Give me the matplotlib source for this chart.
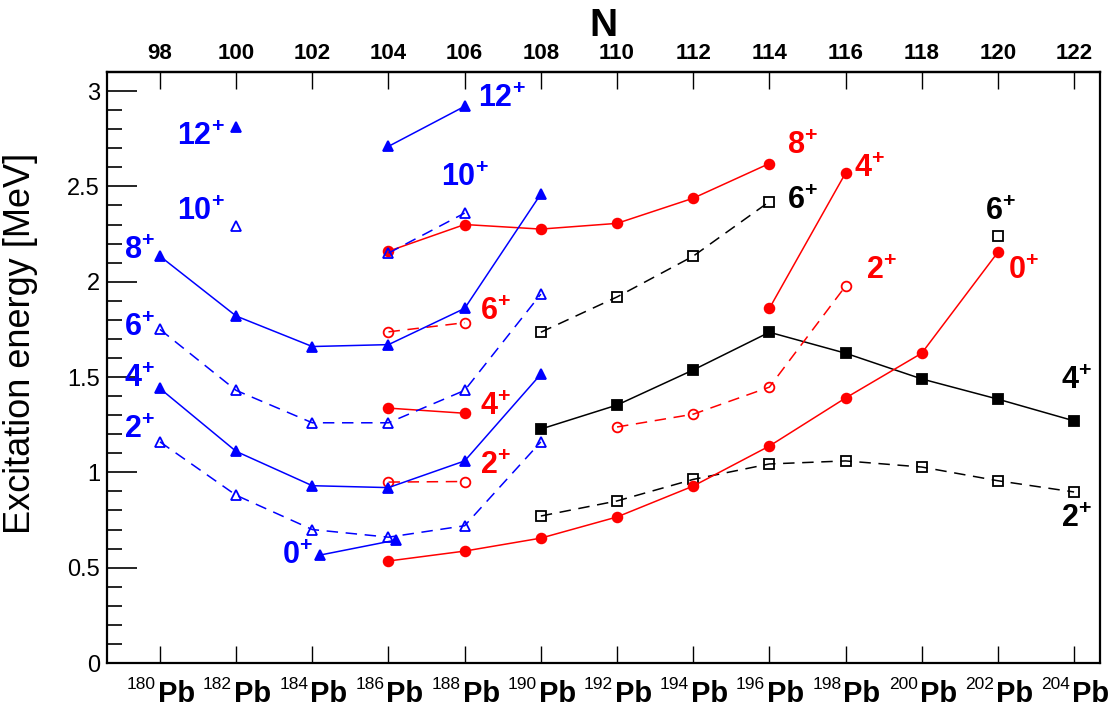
import numpy as np
import matplotlib
matplotlib.use('Agg')
import matplotlib.pyplot as plt
from matplotlib.ticker import MultipleLocator, FuncFormatter

plt.rcParams['font.family'] = ['Liberation Sans', 'DejaVu Sans']
plt.rcParams['mathtext.fontset'] = 'custom'
plt.rcParams['mathtext.rm'] = 'Liberation Sans'
plt.rcParams['mathtext.bf'] = 'Liberation Sans:bold'
plt.rcParams['mathtext.it'] = 'Liberation Sans:italic'

nan = np.nan

# neutron numbers
N_blue = [98, 100, 102, 104, 106, 108]
N_red = [104, 106, 108, 110, 112, 114, 116, 118, 120]
N_black = [108, 110, 112, 114, 116, 118, 120, 122]
N_ticks = list(range(98, 124, 2))

# blue (prolate) levels, MeV
blue_0_N = [102.2, 104.2]
blue_0 = [0.566, 0.645]
blue_2 = [1.16, 0.88, 0.70, 0.66, 0.72, 1.16]
blue_4 = [1.44, 1.11, 0.93, 0.92, 1.06, 1.515]
blue_6 = [1.75, 1.43, 1.26, 1.26, 1.43, 1.935]
blue_8 = [2.134, 1.82, 1.66, 1.67, 1.86, 2.46]
blue_10 = [nan, 2.29, nan, 2.15, 2.36, nan]
blue_12 = [nan, 2.81, nan, 2.71, 2.92, nan]

# red (oblate) levels
red_0 = [0.535, 0.587, 0.655, 0.766, 0.928, 1.138, 1.39, 1.625, 2.155]
red_2 = [0.949, 0.952, nan, 1.238, 1.305, 1.447, 1.977, nan, nan]
red_4 = [1.337, 1.31, nan, nan, nan, 1.86, 2.57, nan, nan]
red_6 = [1.737, 1.785, nan, nan, nan, nan, nan, nan, nan]
red_8 = [2.16, 2.30, 2.276, 2.306, 2.438, 2.62, nan, nan, nan]

# black (spherical) levels
black_2 = [0.771, 0.85, 0.963, 1.044, 1.06, 1.028, 0.956, 0.897]
black_4 = [1.227, 1.353, 1.537, 1.735, 1.625, 1.49, 1.384, 1.27]
black_6 = [1.735, 1.92, 2.134, 2.42, nan, nan, 2.24, nan]

# spin labels: text, colour, N, E
lab_text = ['12', '10', '8', '6', '4', '2', '0', '12', '10',
            '6', '4', '2', '8', '4', '2', '0',
            '6', '6', '4', '2']
lab_color = ['blue'] * 9 + ['red'] * 7 + ['black'] * 4
lab_N = [99.08, 99.08, 97.47, 97.47, 97.47, 97.47, 101.62, 106.98, 106.01,
         106.82, 106.82, 106.82, 114.86, 116.64, 116.93, 120.66,
         114.86, 120.06, 122.05, 122.05]
lab_E = [2.757, 2.364, 2.159, 1.756, 1.488, 1.221, 0.561, 2.956, 2.542,
         1.84, 1.342, 1.033, 2.71, 2.589, 2.055, 2.055,
         2.421, 2.364, 1.478, 0.755]

fig = plt.figure(figsize=(11.12, 7.11), dpi=100)
ax = fig.add_axes([107/1112, 1 - 663/711, 993/1112, 591/711])

dash = (7.5, 5)


def draw(n, e, color, marker, filled, dashed, ms=7):
    ls = '--' if dashed else '-'
    line, = ax.plot(n, e, color=color, lw=1.1, ls=ls, marker=marker, ms=ms,
                    mfc=color if filled else 'none', mec=color, mew=1.3)
    if dashed:
        line.set_dashes(dash)


draw(N_black, black_2, 'black', 's', False, True, 7)
draw(N_black, black_4, 'black', 's', True, False, 6.5)
draw(N_black, black_6, 'black', 's', False, True, 7)

draw(N_red, red_0, 'red', 'o', True, False)
draw(N_red, red_2, 'red', 'o', False, True)
draw(N_red, red_4, 'red', 'o', True, False)
draw(N_red, red_6, 'red', 'o', False, True)
draw(N_red, red_8, 'red', 'o', True, False)

draw(blue_0_N, blue_0, 'blue', '^', True, False)
draw(N_blue, blue_2, 'blue', '^', False, True)
draw(N_blue, blue_4, 'blue', '^', True, False)
draw(N_blue, blue_6, 'blue', '^', False, True)
draw(N_blue, blue_8, 'blue', '^', True, False)
draw(N_blue, blue_10, 'blue', '^', False, True)
draw(N_blue, blue_12, 'blue', '^', True, False)

for t, c, x, y in zip(lab_text, lab_color, lab_N, lab_E):
    ax.text(x, y, t + r'$^{\mathbf{+}}$', color=c, fontsize=22,
            fontweight='bold', ha='center', va='center')

ax.set_xlim(96.61, 122.68)
ax.set_ylim(0, 3.1)

# y axis
ax.yaxis.set_major_locator(MultipleLocator(0.5))
ax.yaxis.set_minor_locator(MultipleLocator(0.1))
ax.yaxis.set_major_formatter(FuncFormatter(lambda v, p: '%g' % v))
ax.tick_params(axis='y', which='major', direction='in', length=21.5, width=1.2,
               labelsize=17, pad=5, right=False)
ax.tick_params(axis='y', which='minor', direction='in', length=10.8, width=1.2,
               right=False)
ax.set_ylabel('Excitation energy [MeV]', fontsize=26)
ax.yaxis.set_label_coords(-0.069, 0.54)

# bottom axis: isotopes, drawn as mass number + Pb
ax.set_xticks(N_ticks)
ax.set_xticklabels([])
ax.tick_params(axis='x', direction='in', length=12, width=1, top=False)
for n in N_ticks:
    ax.annotate('Pb', xy=(n, 0), xycoords=('data', 'axes fraction'),
                xytext=(-1.5, -28), textcoords='offset points',
                ha='left', va='baseline', fontsize=21, fontweight='bold',
                annotation_clip=False)
    ax.annotate(str(n + 82), xy=(n, 0), xycoords=('data', 'axes fraction'),
                xytext=(-3, -18.5), textcoords='offset points',
                ha='right', va='baseline', fontsize=12.5,
                annotation_clip=False)

# top axis: neutron number
sec = ax.secondary_xaxis('top')
sec.set_xticks(N_ticks)
sec.set_xticklabels([str(n) for n in N_ticks], fontsize=16, fontweight='bold')
sec.tick_params(direction='in', length=12, width=1, pad=6)
sec.set_xlabel('N', fontsize=28, fontweight='bold', labelpad=5)

for sp in ax.spines.values():
    sp.set_linewidth(1.6)
sec.spines['top'].set_linewidth(1.6)

fig.savefig('out.png', dpi=100)
